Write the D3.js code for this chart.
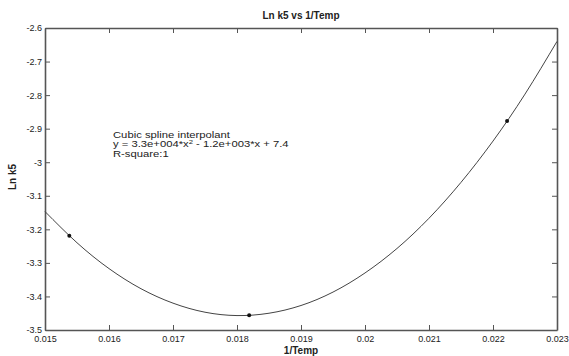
<!DOCTYPE html>
<html>
<head>
<meta charset="utf-8">
<script src="https://cdn.jsdelivr.net/npm/d3@7/dist/d3.min.js"></script>
<style>
  html, body { margin: 0; padding: 0; background: #fff; }
  svg { display: block; }
  text { font-family: Arial, "Liberation Sans", sans-serif; fill: #222; }
</style>
</head>
<body>
<svg id="chart" width="569" height="356"></svg>
<script>
// Spline fit of ln(k5) against 1/Temp, sampled across the plotted range
const curveX = [0.015, 0.0155, 0.016, 0.0165, 0.017, 0.0175, 0.018, 0.0185, 0.019, 0.0195, 0.020, 0.0205, 0.021, 0.0215, 0.022, 0.0225, 0.023];
const curveY = [-3.147, -3.240, -3.317, -3.377, -3.420, -3.447, -3.457, -3.450, -3.427, -3.387, -3.330, -3.257, -3.167, -3.060, -2.937, -2.797, -2.640];

// Measured data points
const pointX = [0.01538, 0.01819, 0.02222];
const pointY = [-3.219, -3.456, -2.877];

// Axis ticks
const xTicks = [0.015, 0.016, 0.017, 0.018, 0.019, 0.02, 0.021, 0.022, 0.023];
const xTickLabels = ["0.015", "0.016", "0.017", "0.018", "0.019", "0.02", "0.021", "0.022", "0.023"];
const yTicks = [-2.6, -2.7, -2.8, -2.9, -3, -3.1, -3.2, -3.3, -3.4, -3.5];
const yTickLabels = ["-2.6", "-2.7", "-2.8", "-2.9", "-3", "-3.1", "-3.2", "-3.3", "-3.4", "-3.5"];

const titleText = "Ln k5 vs 1/Temp";
const xLabel = "1/Temp";
const yLabel = "Ln k5";
const fitLines = ["Cubic spline interpolant", "y = 3.3e+004*x", " - 1.2e+003*x + 7.4", "R-square:1"];

const svg = d3.select("#chart");
const plotL = 45, plotR = 557, plotT = 28, plotB = 330;

const x = d3.scaleLinear().domain([0.015, 0.023]).range([plotL, plotR]);
const y = d3.scaleLinear().domain([-3.5, -2.6]).range([plotB, plotT]);

const axisColor = "#555";
const tickLen = 5;

// Axes on all four sides, ticks pointing inward
const fmtX = (d) => xTickLabels[xTicks.indexOf(d)];
const fmtY = (d) => yTickLabels[yTicks.indexOf(d)];

const gBottom = svg.append("g").attr("transform", `translate(0,${plotB})`)
  .call(d3.axisBottom(x).tickValues(xTicks).tickSize(-tickLen).tickSizeOuter(0).tickPadding(6).tickFormat(fmtX));
const gTop = svg.append("g").attr("transform", `translate(0,${plotT})`)
  .call(d3.axisTop(x).tickValues(xTicks).tickSize(-tickLen).tickSizeOuter(0).tickFormat(""));
const gLeft = svg.append("g").attr("transform", `translate(${plotL},0)`)
  .call(d3.axisLeft(y).tickValues(yTicks).tickSize(-tickLen).tickSizeOuter(0).tickPadding(3).tickFormat(fmtY));
const gRight = svg.append("g").attr("transform", `translate(${plotR},0)`)
  .call(d3.axisRight(y).tickValues(yTicks).tickSize(-tickLen).tickSizeOuter(0).tickFormat(""));

[gBottom, gTop, gLeft, gRight].forEach(g => {
  g.select(".domain").attr("stroke", axisColor).attr("stroke-width", 1.6);
  g.selectAll(".tick line").attr("stroke", axisColor).attr("stroke-width", 1);
  g.selectAll(".tick text").attr("fill", "#333").style("font-size", "9px")
    .style("font-family", "Arial, 'Liberation Sans', sans-serif");
});

// Spline curve
const line = d3.line()
  .x((d, i) => x(curveX[i]))
  .y((d, i) => y(curveY[i]))
  .curve(d3.curveNatural);

svg.append("path")
  .datum(curveX)
  .attr("d", line)
  .attr("fill", "none")
  .attr("stroke", "#444")
  .attr("stroke-width", 1);

// Data markers
svg.append("g").selectAll("circle")
  .data(pointX)
  .join("circle")
  .attr("cx", (d) => x(d))
  .attr("cy", (d, i) => y(pointY[i]))
  .attr("r", 2)
  .attr("fill", "#111");

// Title and axis labels
svg.append("text")
  .attr("x", (plotL + plotR) / 2).attr("y", 19)
  .attr("text-anchor", "middle")
  .style("font-size", "10px").style("font-weight", "bold")
  .text(titleText);

svg.append("text")
  .attr("x", (plotL + plotR) / 2).attr("y", 354)
  .attr("text-anchor", "middle")
  .style("font-size", "10px").style("font-weight", "bold")
  .text(xLabel);

svg.append("text")
  .attr("transform", `translate(16,${(plotT + plotB) / 2 - 2}) rotate(-90)`)
  .attr("text-anchor", "middle")
  .style("font-size", "10px").style("font-weight", "bold")
  .text(yLabel);

// Fit annotation (widened face)
const ann = svg.append("g")
  .attr("transform", "translate(113,0) scale(1.28,1)")
  .style("font-size", "8.8px")
  .style("font-family", "'DejaVu Sans', sans-serif");
ann.append("text").attr("x", 0).attr("y", 137.8).text(fitLines[0]);
const eq = ann.append("text").attr("x", 0).attr("y", 147.4);
eq.append("tspan").text(fitLines[1]);
eq.append("tspan").attr("dy", -3.5).style("font-size", "6px").text("2");
eq.append("tspan").attr("dy", 3.5).text(fitLines[2]);
ann.append("text").attr("x", 0).attr("y", 157).text(fitLines[3]);
</script>
</body>
</html>
